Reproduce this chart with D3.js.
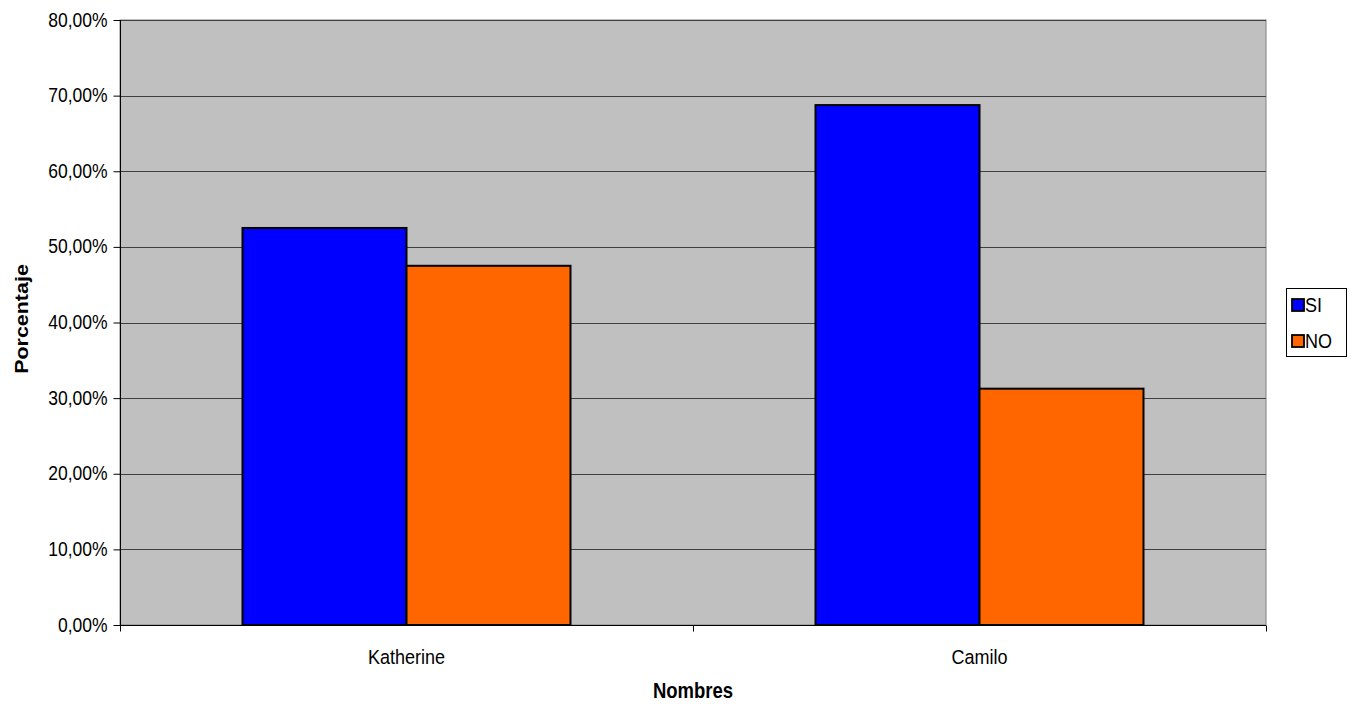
<!DOCTYPE html>
<html><head><meta charset="utf-8">
<script src="https://cdn.jsdelivr.net/npm/d3@7"></script>
<style>body{margin:0;background:#fff}text{font-family:"Liberation Sans",Arial,sans-serif}</style>
</head><body><svg id="c" width="1353" height="704"></svg>
<script>
const categories = ["Katherine", "Camilo"];
const seriesNames = ["SI", "NO"];
const siValues = [0.525, 0.6875];
const noValues = [0.475, 0.3125];
const yTicks = [0, 0.1, 0.2, 0.3, 0.4, 0.5, 0.6, 0.7, 0.8];
const colors = ["#0000ff", "#ff6600"];

const SY = 1.16; // vertical stretch of text
const svg = d3.select("#c");
const L = 120, R = 1266, T = 20, B = 625;
const y = d3.scaleLinear().domain([0, 0.8]).range([B, T]);
const x0 = d3.scaleBand().domain(categories).range([L, R]).paddingInner(0.4276).paddingOuter(0.2138);
const x1 = d3.scaleBand().domain(seriesNames).range([0, x0.bandwidth()]);
const fmt = v => d3.format(".2f")(v * 100).replace(".", ",") + "%";

svg.append("rect").attr("x", L).attr("y", T).attr("width", R - L).attr("height", B - T)
  .attr("fill", "#c0c0c0").attr("stroke", "#808080").attr("stroke-width", 1);

svg.append("g").selectAll("line").data(yTicks.slice(1)).join("line")
  .attr("x1", L).attr("x2", R).attr("y1", d => Math.round(y(d)) + 0.5).attr("y2", d => Math.round(y(d)) + 0.5)
  .attr("stroke", "#404040").attr("stroke-width", 1);

const data = categories.map((c, i) => ({ c, vals: [siValues[i], noValues[i]] }));
const g = svg.append("g").selectAll("g").data(data).join("g").attr("transform", d => `translate(${x0(d.c)},0)`);
g.selectAll("rect").data(d => d.vals.map((v, j) => ({ v, s: seriesNames[j], j }))).join("rect")
  .attr("x", d => x1(d.s)).attr("width", x1.bandwidth())
  .attr("y", d => y(d.v)).attr("height", d => B - y(d.v))
  .attr("fill", d => colors[d.j]).attr("stroke", "#000").attr("stroke-width", 2);

const ya = svg.append("g").attr("transform", `translate(${L + 0.5},0)`)
  .call(d3.axisLeft(y).tickValues(yTicks).tickFormat(fmt).tickSize(7).tickPadding(6));
ya.select(".domain").attr("stroke", "#000").attr("d", `M0,${T}V${B}`);
ya.selectAll(".tick line").attr("stroke", "#000");
ya.selectAll("text").attr("font-size", 17.5).attr("fill", "#000")
  .attr("font-family", "Liberation Sans, Arial").attr("transform", `scale(1,${SY})`).attr("dy", "0.30em");

const xa = svg.append("g").attr("transform", `translate(0,${B + 0.5})`);
xa.append("line").attr("x1", L).attr("x2", R).attr("stroke", "#000");
xa.selectAll(".t").data([L, x0(categories[0]) + x0.bandwidth() / 2 + x0.step() / 2, R]).join("line")
  .attr("x1", d => Math.round(d) + 0.5).attr("x2", d => Math.round(d) + 0.5).attr("y1", 0).attr("y2", 6).attr("stroke", "#000");
xa.selectAll("text").data(categories).join("text")
  .attr("transform", d => `translate(${x0(d) + x0.bandwidth() / 2},38) scale(1,${SY})`)
  .attr("text-anchor", "middle").attr("font-size", 18).text(d => d);

svg.append("text").attr("transform", `translate(${(L + R) / 2},698) scale(1,${SY})`).attr("text-anchor", "middle")
  .attr("font-size", 18.5).attr("font-weight", "bold").text("Nombres");
svg.append("text").attr("transform", `translate(28,319) scale(1,${SY}) rotate(-90)`).attr("text-anchor", "middle")
  .attr("font-size", 18.5).attr("font-weight", "bold").text("Porcentaje");

const lg = svg.append("g").attr("transform", "translate(1286,288)");
lg.append("rect").attr("x", 0.5).attr("y", 0.5).attr("width", 60).attr("height", 68).attr("fill", "#fff").attr("stroke", "#000");
const items = lg.selectAll("g").data(seriesNames).join("g").attr("transform", (d, i) => `translate(6,${11 + i * 36})`);
items.append("rect").attr("x", 0).attr("y", 0).attr("width", 12).attr("height", 12)
  .attr("fill", (d, i) => colors[i]).attr("stroke", "#000").attr("stroke-width", 1.8);
items.append("text").attr("transform", `translate(13,13) scale(1,${SY})`).attr("font-size", 18).text(d => d);
</script></body></html>
